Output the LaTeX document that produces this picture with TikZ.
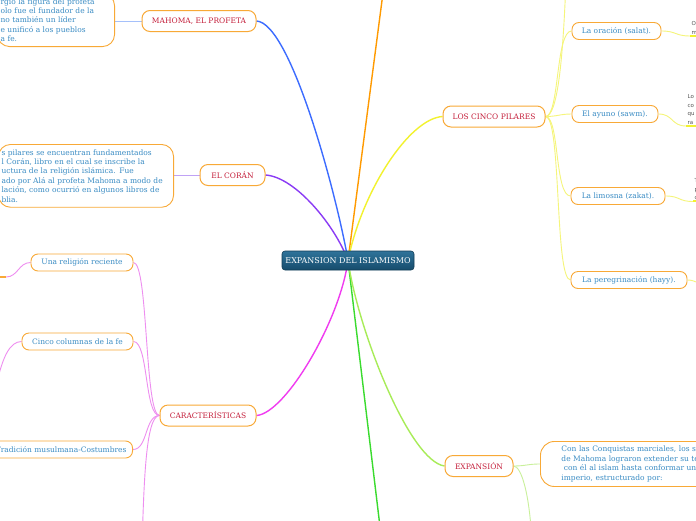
\documentclass[tikz,border=0pt]{standalone}
\usepackage{fontspec}
\setmainfont{DejaVu Serif}
\setsansfont{DejaVu Sans}
\usetikzlibrary{backgrounds}
\definecolor{cOrange}{HTML}{FF9A00}
\definecolor{cBlue}{HTML}{3C6CFF}
\definecolor{cPurple}{HTML}{8A3BF5}
\definecolor{cYellow}{HTML}{F2F22E}
\definecolor{cMagenta}{HTML}{F03CF0}
\definecolor{cGreen}{HTML}{3ADB2E}
\definecolor{cLime}{HTML}{A8EC58}
\definecolor{lYellow}{HTML}{F5F57A}
\definecolor{lMagenta}{HTML}{EE8EF0}
\definecolor{lBlue}{HTML}{A5C0FA}
\definecolor{lPurple}{HTML}{C0A2F5}
\definecolor{lLime}{HTML}{C9F09A}
\definecolor{bOrange}{HTML}{F8A937}
\definecolor{tRed}{HTML}{C41E3A}
\definecolor{tBlue}{HTML}{3A8CC4}
\definecolor{fGray}{HTML}{555555}
\definecolor{cTop}{HTML}{2F739A}
\definecolor{cBot}{HTML}{164C6C}
\tikzset{
  central/.style={draw=cBot!80!black, line width=0.6pt, rounded corners=3pt,
    top color=cTop, bottom color=cBot, text=white,
    font=\fontsize{8}{9}\selectfont, minimum width=132pt, minimum height=19pt, inner xsep=2pt},
  topic/.style={draw=bOrange, line width=1pt, fill=white, rounded corners=8pt,
    text=tRed, font=\fontsize{7.5}{9}\selectfont, minimum height=21pt, inner xsep=6pt},
  subtopic/.style={draw=bOrange, line width=0.9pt, fill=white, rounded corners=7pt,
    text=tBlue, font=\fontsize{7.5}{9}\selectfont, minimum height=17pt, inner xsep=6pt},
  notebox/.style={draw=bOrange, line width=0.9pt, fill=white, rounded corners=12pt,
    text=tBlue, align=left, inner ysep=5pt, inner xsep=3pt},
  fragnode/.style={text=fGray, align=left, inner sep=1.5pt, text width=40pt,
    font=\sffamily\fontsize{5.5}{8.5}\selectfont},
  mainline/.style={line width=1.4pt},
  subline/.style={line width=0.9pt},
  uline/.style={line width=2pt}
}
\begin{document}
\begin{tikzpicture}[x=1pt,y=-1pt]
\useasboundingbox (0,0) rectangle (696,520);

% central and main topics
\node[central] (c) at (348,260.5) {EXPANSION DEL ISLAMISMO};
\node[topic, minimum width=114pt] (mah) at (199,21) {MAHOMA, EL PROFETA};
\node[topic, minimum width=65pt] (cor) at (232.5,175) {EL CORÁN};
\node[topic, minimum width=96pt] (car) at (208,415.5) {CARACTERÍSTICAS};
\node[topic, minimum width=102pt] (pil) at (494,116.5) {LOS CINCO PILARES};
\node[topic, minimum width=68pt] (exp) at (479,466) {EXPANSIÓN};

% notes
\node[notebox, anchor=south east, text width=111pt,
  font=\fontsize{7.5}{9.25}\selectfont] (mtx) at (115,47)
  {rgio la figura del profeta\\olo fue el fundador de la\\no también un líder\\e unificó a los pueblos\\a fe.};
\node[notebox, anchor=north east, text width=169pt,
  font=\fontsize{7.5}{9.4}\selectfont] (ctx) at (174,144)
  {s pilares se encuentran fundamentados\\l Corán, libro en el cual se inscribe la\\uctura de la religión islámica. Fue\\ado por Alá al profeta Mahoma a modo de\\lación, como ocurrió en algunos libros de\\blia.};
\node[notebox, anchor=north west, text width=250pt, inner xsep=21pt, inner ysep=4.5pt,
  rounded corners=14pt, font=\fontsize{7.5}{9.6}\selectfont] (etx) at (540,441)
  {Con las Conquistas marciales, los seguidores\\de Mahoma lograron extender su territorio y\\\ con él al islam hasta conformar un gran\\imperio, estructurado por:};

% subtopics of CARACTERISTICAS
\node[subtopic, minimum width=102pt] (rel) at (82,262.5) {Una religión reciente};
\node[subtopic, minimum width=111pt] (col) at (77.5,341.5) {Cinco columnas de la fe};
\node[subtopic, anchor=east] (tra) at (133,449.5) {Tradición musulmana-Costumbres};

% subtopics of LOS CINCO PILARES
\node[subtopic, minimum width=89pt] (ora) at (616.5,31) {La oración (salat).};
\node[subtopic, minimum width=86pt] (ayu) at (615,114) {El ayuno (sawm).};
\node[subtopic, minimum width=94pt] (lim) at (618,196) {La limosna (zakat).};
\node[subtopic, minimum width=116pt] (per) at (629,280) {La peregrinación (hayy).};

% fragments at right edge
\node[fragnode, anchor=north west] (orf) at (690,20) {O\\m};
\node[fragnode, anchor=north west] (ayf) at (686,93) {Lo\\co\\qu\\ra};
\node[fragnode, anchor=north west] (lif) at (693,177) {T\\p\\c};

% off-page ends
\coordinate (topoff) at (386,-30);
\coordinate (botoff) at (384,560);
\coordinate (pilup) at (566,-20);
\coordinate (perc) at (705,284);
\coordinate (relc) at (6,277);
\coordinate (colc) at (-2,378);
\coordinate (cardown) at (142,545);
\coordinate (expdown) at (532,545);

\begin{scope}[on background layer]
  \fill[white] (0,0) rectangle (696,520);
  % main connectors
  \draw[mainline, cOrange] (c.center) -- (topoff);
  \draw[mainline, cBlue] (mah.east) .. controls +(35,2) and +(-10,-60) .. (c.center);
  \draw[mainline, cPurple] (cor.east) .. controls +(30,2) and +(-13,-35) .. (c.center);
  \draw[mainline, cYellow] (c.center) .. controls +(14,-70) and +(-33,2) .. (pil.west);
  \draw[mainline, cMagenta] (car.east) .. controls +(29,-2) and +(-8,60) .. (c.center);
  \draw[mainline, cGreen] (c.center) -- (botoff);
  \draw[mainline, cLime] (c.center) .. controls +(10,70) and +(-35,-5) .. (exp.west);
  % note links
  \draw[subline, lBlue] (mah.west) -- (mah.west -| mtx.east);
  \draw[subline, lPurple] (cor.west) -- (cor.west -| ctx.east);
  \draw[subline, lLime] (exp.east) .. controls +(12,0) and +(-12,0) .. (etx.west);
  \draw[subline, lLime] (exp.east) .. controls +(8,0) and +(-2,-50) .. (expdown);
  % caracteristicas children
  \draw[subline, lMagenta] (car.west) .. controls +(-15,0) and +(15,0) .. (rel.east);
  \draw[subline, lMagenta] (car.west) .. controls +(-15,0) and +(15,0) .. (col.east);
  \draw[subline, lMagenta] (car.west) .. controls +(-15,0) and +(15,0) .. (tra.east);
  \draw[subline, lMagenta] (car.west) .. controls +(-14,0) and +(2,-60) .. (cardown);
  \draw[subline, lMagenta] (rel.west) .. controls +(-12,0) and +(12,0) .. (relc);
  \draw[uline, bOrange] (relc) -- ++(-30,0);
  \draw[subline, lMagenta] (col.west) .. controls +(-12,0) and +(5,-20) .. (colc);
  % pillars children
  \draw[subline, lYellow] (pil.east) .. controls +(12,0) and +(-3,80) .. (pilup);
  \draw[subline, lYellow] (pil.east) .. controls +(14,0) and +(-16,0) .. (ora.west);
  \draw[subline, lYellow] (pil.east) .. controls +(12,0) and +(-12,0) .. (ayu.west);
  \draw[subline, lYellow] (pil.east) .. controls +(14,0) and +(-16,0) .. (lim.west);
  \draw[subline, lYellow] (pil.east) .. controls +(16,0) and +(-16,0) .. (per.west);
  \draw[subline, lYellow] (ora.east) .. controls +(15,0) and +(-15,0) .. (orf.south west);
  \draw[subline, lYellow] (ayu.east) .. controls +(15,0) and +(-15,0) .. (ayf.south west);
  \draw[subline, lYellow] (lim.east) .. controls +(15,0) and +(-15,0) .. (lif.south west);
  \draw[subline, lYellow] (per.east) .. controls +(8,0) and +(-8,0) .. (perc);
  \draw[uline, cYellow] (orf.south west) -- (orf.south east);
  \draw[uline, cYellow] (ayf.south west) -- (ayf.south east);
  \draw[uline, cYellow] (lif.south west) -- (lif.south east);
\end{scope}
\end{tikzpicture}
\end{document}
